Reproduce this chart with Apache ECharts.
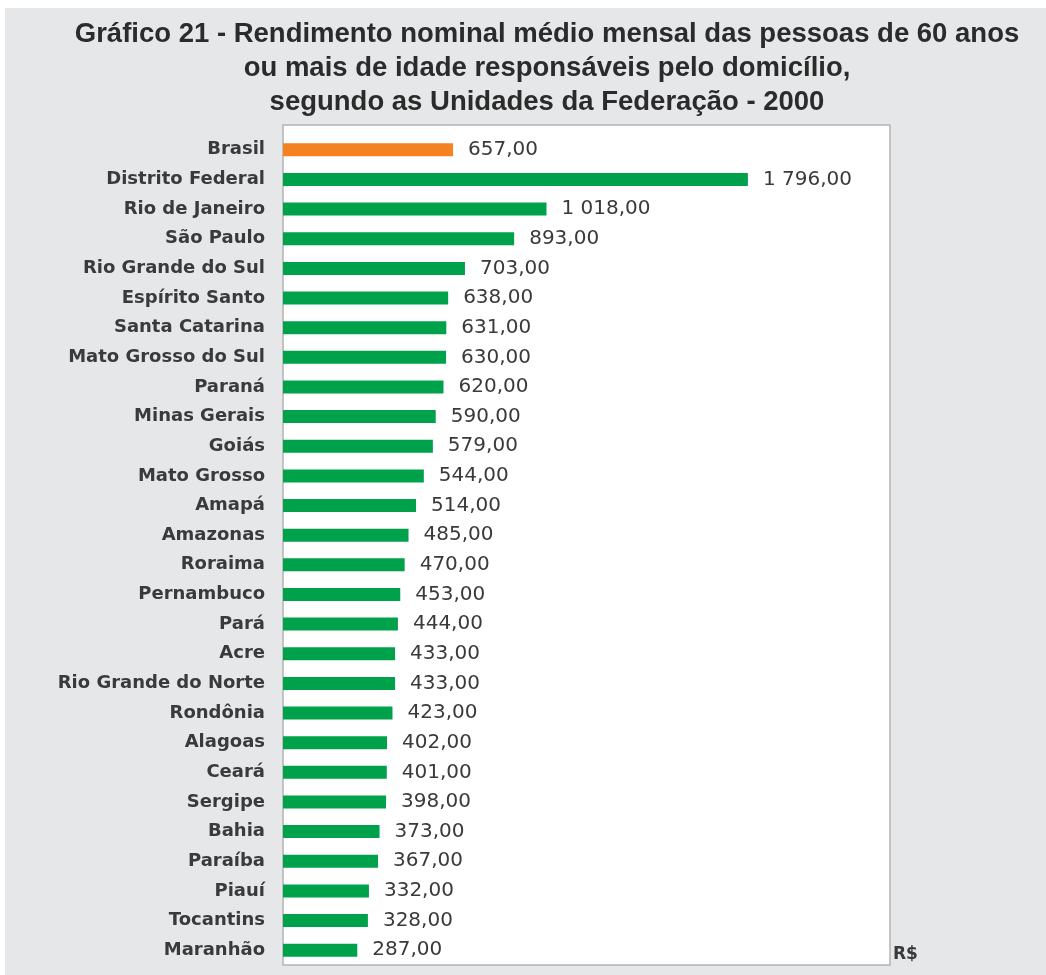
<!DOCTYPE html>
<html>
<head>
<meta charset="utf-8">
<script src="https://cdn.jsdelivr.net/npm/echarts@6/dist/echarts.min.js"></script>
<style>
html,body{margin:0;padding:0;background:#ffffff;}
#c{width:1046px;height:975px;}
</style>
</head>
<body>
<div id="c"></div>
<script>
const categories = ["Brasil","Distrito Federal","Rio de Janeiro","São Paulo","Rio Grande do Sul","Espírito Santo","Santa Catarina","Mato Grosso do Sul","Paraná","Minas Gerais","Goiás","Mato Grosso","Amapá","Amazonas","Roraima","Pernambuco","Pará","Acre","Rio Grande do Norte","Rondônia","Alagoas","Ceará","Sergipe","Bahia","Paraíba","Piauí","Tocantins","Maranhão"];
const values = [657,1796,1018,893,703,638,631,630,620,590,579,544,514,485,470,453,444,433,433,423,402,401,398,373,367,332,328,287];
const highlight = "Brasil";
const titleText = "Gráfico 21 - Rendimento nominal médio mensal das pessoas de 60 anos\nou mais de idade responsáveis pelo domicílio,\nsegundo as Unidades da Federação - 2000";
const unitLabel = "R$";

function fmt(v){
  const s = v.toFixed(2).split('.');
  const int = s[0].replace(/\B(?=(\d{3})+(?!\d))/g,' ');
  return int + ',' + s[1];
}

const chart = echarts.init(document.getElementById('c'), null, {renderer:'canvas'});
const option = {
  backgroundColor: 'transparent',
  animation: false,
  graphic: [
    {type:'rect', z:-10, shape:{x:5,y:8,width:1041,height:967}, style:{fill:'#e6e7e9'}},
    {type:'rect', z:-5, shape:{x:283,y:125,width:607,height:840}, style:{fill:'#ffffff', stroke:'#b4b4b4', lineWidth:1.5}},
    {type:'text', z:5, left:893, top:946, style:{text:unitLabel, fill:'#3a3a3a', font:'bold 17px "DejaVu Sans", sans-serif'}}
  ],
  title: {
    text: titleText,
    left: 542,
    top: 12,
    textAlign: 'center',
    textStyle: {fontFamily:'"Liberation Sans", Arial, sans-serif', fontWeight:'bold', fontSize:27.5, lineHeight:34, color:'#2b2b2b'}
  },
  grid: {left:283, right:156, top:135, bottom:10, containLabel:false},
  xAxis: {
    type:'value', min:0, max:2345,
    axisLine:{show:false}, axisTick:{show:false}, axisLabel:{show:false}, splitLine:{show:false}
  },
  yAxis: {
    type:'category', data:categories, inverse:true,
    axisLine:{show:false}, axisTick:{show:false},
    axisLabel:{margin:18, padding:[4,0,0,0], color:'#3a3a3a', fontFamily:'"DejaVu Sans", sans-serif', fontWeight:'bold', fontSize:18}
  },
  series: [{
    type:'bar',
    data: values.map((v,i)=>({value:v, itemStyle:{color: categories[i]===highlight ? '#f58220' : '#00a14b'}})),
    barWidth:13,
    label:{show:true, position:'right', distance:15, padding:[4,0,0,0], color:'#3a3a3a', fontFamily:'"DejaVu Sans", sans-serif', fontSize:20,
      formatter:p=>fmt(p.value)}
  }]
};
chart.setOption(option);
</script>
</body>
</html>
